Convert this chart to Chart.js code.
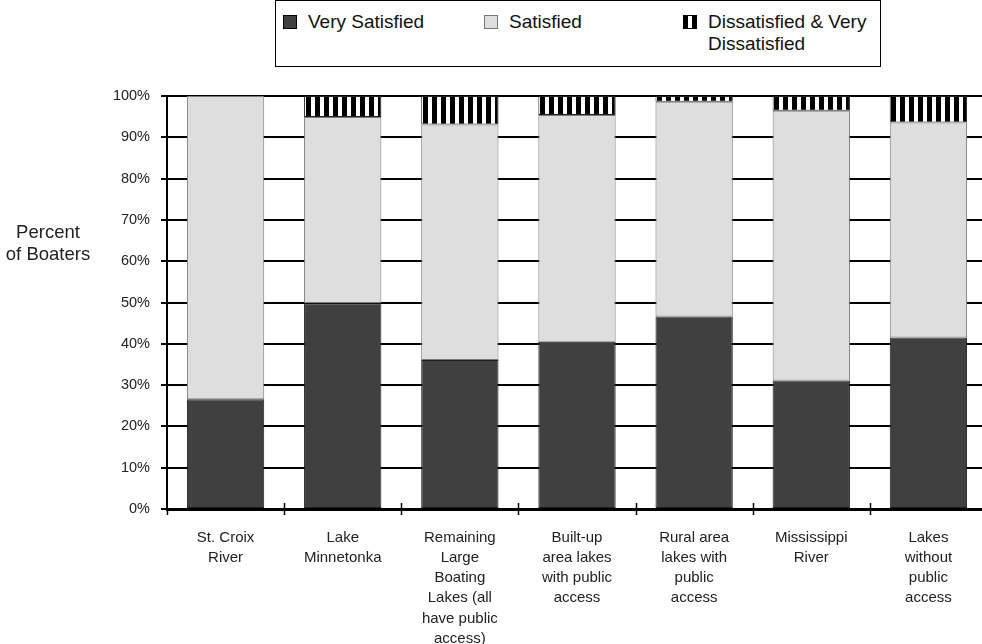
<!DOCTYPE html>
<html>
<head>
<meta charset="utf-8">
<script src="https://cdn.jsdelivr.net/npm/chart.js@4/dist/chart.umd.min.js"></script>
<style>
  html, body { margin: 0; padding: 0; background: #fff; overflow: hidden; width: 982px; height: 644px; }
  #wrap { position: relative; width: 982px; height: 644px; }
  #chart { position: absolute; left: 0; top: 0; }
  #legend {
    position: absolute; left: 275px; top: 0; width: 606px; height: 67px;
    border: 1px solid #000; box-sizing: border-box; background: #fff;
    font-family: "Liberation Sans", Arial, sans-serif; font-size: 19px; color: #111;
  }
  .item { position: absolute; top: 12px; line-height: 22px; }
  .sw { position: absolute; top: 2px; width: 14px; height: 14px; box-sizing: border-box; border: 1px solid #000; }
  .item span.t { position: absolute; left: 25px; top: -2px; white-space: nowrap; }
  #ytitle {
    position: absolute; left: 0; top: 221px; width: 96px; text-align: center;
    font-family: "Liberation Sans", Arial, sans-serif; font-size: 18.5px; line-height: 22px; color: #222;
  }
</style>
</head>
<body>
<div id="wrap">
  <canvas id="chart" width="990" height="644" style="width:990px;height:644px"></canvas>
  <div id="legend">
    <div class="item" style="left:7px"><div class="sw" style="background:#404040"></div><span class="t">Very Satisfied</span></div>
    <div class="item" style="left:208px"><div class="sw" style="background:#dedede;border-color:#777"></div><span class="t">Satisfied</span></div>
    <div class="item" style="left:407px"><div class="sw" style="background:repeating-linear-gradient(90deg,#000 0 4px,#fff 4px 8px)"></div><span class="t">Dissatisfied &amp; Very<br>Dissatisfied</span></div>
  </div>
  <div id="ytitle">Percent<br>of Boaters</div>
</div>
<script>
// Survey categories (multi-line axis labels)
const categories = [
  ["St. Croix", "River"],
  ["Lake", "Minnetonka"],
  ["Remaining", "Large", "Boating", "Lakes (all", "have public", "access)"],
  ["Built-up", "area lakes", "with public", "access"],
  ["Rural area", "lakes with", "public", "access"],
  ["Mississippi", "River"],
  ["Lakes", "without", "public", "access"]
];

// Share of boaters (%) per satisfaction level
const verySatisfied = [26.6, 49.8, 36.1, 40.5, 46.6, 31.1, 41.5];
const satisfied     = [73.4, 45.1, 57.0, 54.9, 52.0, 65.3, 52.1];
const dissatisfied  = [0.0,  5.1,  6.9,  4.6,  1.4,  3.6,  6.4];

// Y tick values
const yTicks = [0, 10, 20, 30, 40, 50, 60, 70, 80, 90, 100];

// Vertical black/white stripe fill
function stripePattern() {
  const c = document.createElement("canvas");
  c.width = 9; c.height = 9;
  const g = c.getContext("2d");
  g.fillStyle = "#fff"; g.fillRect(0, 0, 9, 9);
  g.fillStyle = "#000"; g.fillRect(0, 0, 5, 9);
  return g.createPattern(c, "repeat");
}

const FONT = "'Liberation Sans', Arial, sans-serif";

// Short tick marks crossing the category axis between the bars
const crossTicks = {
  id: "crossTicks",
  afterDraw(chart) {
    const x = chart.scales.x, y = chart.scales.y;
    const ctx = chart.ctx;
    const base = y.getPixelForValue(0);
    const step = x.getPixelForValue(1) - x.getPixelForValue(0);
    ctx.save();
    ctx.strokeStyle = "#000";
    ctx.lineWidth = 1.5;
    for (let i = 0; i < categories.length; i++) {
      const px = Math.round(x.getPixelForValue(i) - step / 2);
      ctx.beginPath();
      ctx.moveTo(px + 0.5, base - (i === 0 ? 0 : 6));
      ctx.lineTo(px + 0.5, base + 6);
      ctx.stroke();
    }
    ctx.restore();
  }
};

new Chart(document.getElementById("chart"), {
  type: "bar",
  data: {
    labels: categories,
    datasets: [
      { label: "Very Satisfied", data: verySatisfied, backgroundColor: "#404040", borderColor: "#1e1e1e", borderWidth: 1 },
      { label: "Satisfied", data: satisfied, backgroundColor: "#dedede", borderColor: "#7a7a7a", borderWidth: 1 },
      { label: "Dissatisfied & Very Dissatisfied", data: dissatisfied, backgroundColor: stripePattern(), borderColor: "#222", borderWidth: 1 }
    ]
  },
  options: {
    responsive: false,
    animation: false,
    layout: { padding: { top: 96, right: 3, left: 0, bottom: 0 } },
    datasets: { bar: { barPercentage: 0.66, categoryPercentage: 1.0, borderSkipped: false } },
    plugins: { legend: { display: false }, tooltip: { enabled: false } },
    scales: {
      x: {
        stacked: true,
        afterFit(s) { s.height = 135; },
        grid: { display: false, drawOnChartArea: false },
        border: { display: true, color: "#000", width: 3 },
        ticks: { color: "#222", font: { family: FONT, size: 15, lineHeight: 1.34 }, padding: 11, maxRotation: 0, autoSkip: false }
      },
      y: {
        stacked: true,
        min: 0, max: 100,
        afterFit(s) { s.width = 167; },
        afterBuildTicks(s) { s.ticks = yTicks.map(v => ({ value: v })); },
        grid: { color: "#000", lineWidth: 2, drawTicks: true, tickLength: 6, tickColor: "#000" },
        border: { display: true, color: "#000", width: 2 },
        ticks: {
          color: "#222", font: { family: FONT, size: 14.5 }, padding: 11,
          callback: v => v + "%"
        }
      }
    }
  },
  plugins: [crossTicks]
});
</script>
</body>
</html>
